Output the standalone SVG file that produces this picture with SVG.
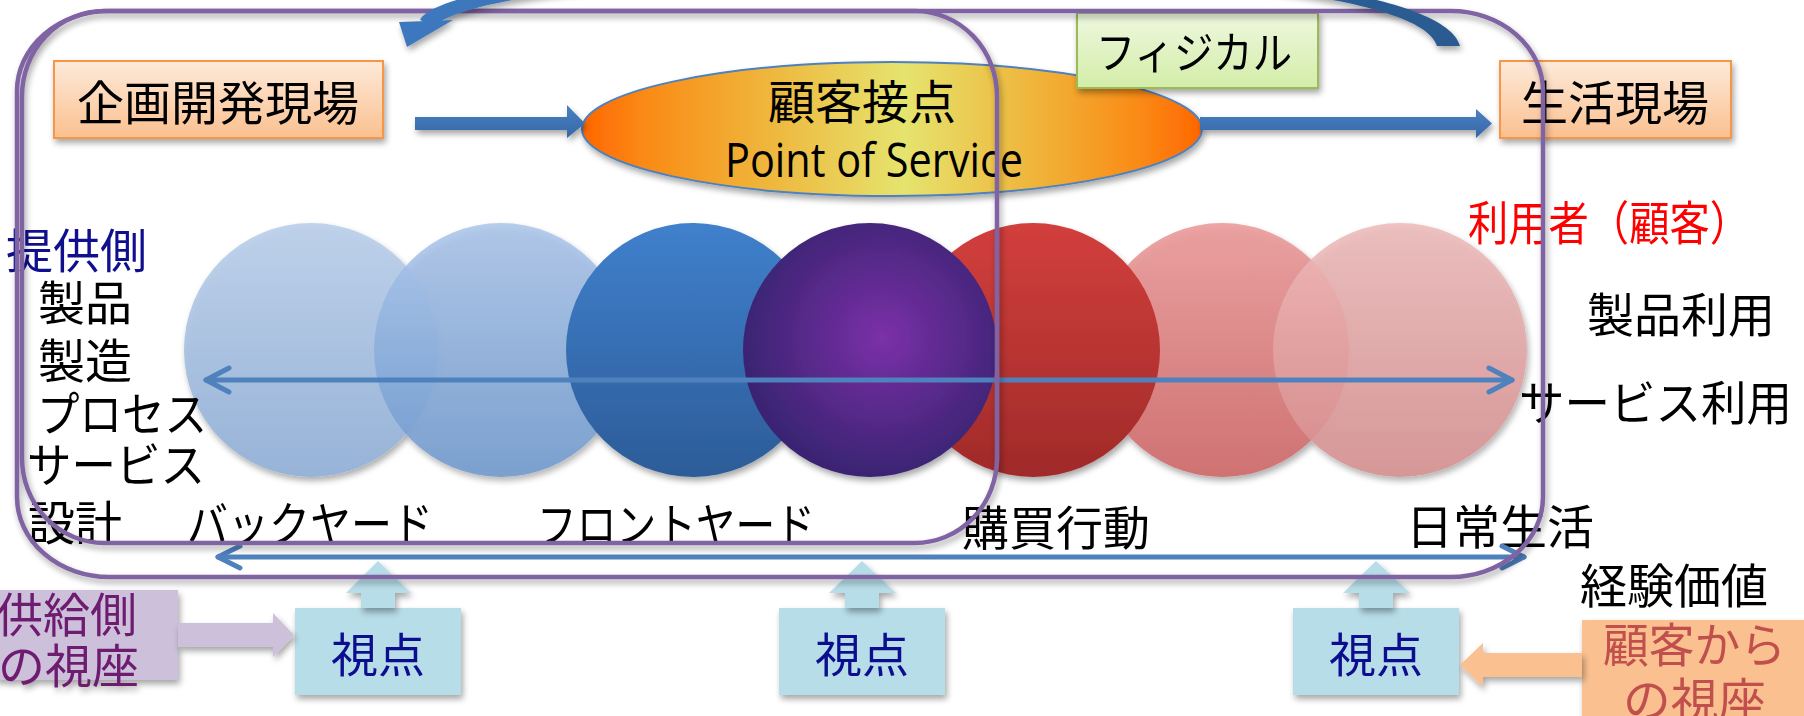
<svg xmlns="http://www.w3.org/2000/svg" width="1804" height="716" viewBox="0 0 1804 716">
<defs>
<style>
.t{font-family:'Noto Sans CJK JP','Noto Sans',sans-serif;font-size:47px;fill:#000;dominant-baseline:central}
.nv{fill:#10108F}
.pr{fill:none;stroke:#8064A2;stroke-width:4.5}
.dbl{fill:none;stroke:#4F81BD;stroke-width:5;stroke-linecap:round;stroke-linejoin:round}
</style>
<filter id="sh" x="-10%" y="-10%" width="130%" height="140%">
<feGaussianBlur in="SourceAlpha" stdDeviation="3"/>
<feOffset dx="2" dy="4" result="o"/>
<feComponentTransfer><feFuncA type="linear" slope="0.35"/></feComponentTransfer>
<feMerge><feMergeNode/><feMergeNode in="SourceGraphic"/></feMerge>
</filter>
<linearGradient id="gOr" x1="0" y1="0" x2="0" y2="1"><stop offset="0" stop-color="#FDEADA"/><stop offset="1" stop-color="#FBC08F"/></linearGradient>
<linearGradient id="gGr" x1="0" y1="0" x2="0" y2="1"><stop offset="0" stop-color="#EEF8DF"/><stop offset="1" stop-color="#D3EDA8"/></linearGradient>
<linearGradient id="gEl" x1="0" y1="0" x2="1" y2="0"><stop offset="0" stop-color="#FF6600"/><stop offset="0.1" stop-color="#FA8A15"/><stop offset="0.28" stop-color="#F0B238"/><stop offset="0.52" stop-color="#E5E46E"/><stop offset="0.74" stop-color="#F0B238"/><stop offset="0.9" stop-color="#FA8A15"/><stop offset="1" stop-color="#FF6600"/></linearGradient>
<linearGradient id="gArc" x1="0" y1="0" x2="1" y2="0"><stop offset="0" stop-color="#3D78BE"/><stop offset="1" stop-color="#2A5A90"/></linearGradient>
<linearGradient id="gBA" x1="0" y1="0" x2="0" y2="1"><stop offset="0" stop-color="#4A80C2"/><stop offset="1" stop-color="#3667A8"/></linearGradient>
<linearGradient id="c1" x1="0" y1="0" x2="0" y2="1"><stop offset="0" stop-color="#BCD0EB"/><stop offset="1" stop-color="#93B1D8"/></linearGradient>
<linearGradient id="c2" x1="0" y1="0" x2="0" y2="1"><stop offset="0" stop-color="#A8C3EA"/><stop offset="1" stop-color="#6A96CC"/></linearGradient>
<linearGradient id="c3" x1="0" y1="0" x2="0" y2="1"><stop offset="0" stop-color="#4080CC"/><stop offset="1" stop-color="#2C5C98"/></linearGradient>
<radialGradient id="c4" cx="0.55" cy="0.45" r="0.55"><stop offset="0" stop-color="#7B30A8"/><stop offset="1" stop-color="#3A2472"/></radialGradient>
<linearGradient id="c5" x1="0" y1="0" x2="0" y2="1"><stop offset="0" stop-color="#D23F3C"/><stop offset="1" stop-color="#A02A29"/></linearGradient>
<linearGradient id="c6" x1="0" y1="0" x2="0" y2="1"><stop offset="0" stop-color="#EC9C9C"/><stop offset="1" stop-color="#CF6A6A"/></linearGradient>
<linearGradient id="c7" x1="0" y1="0" x2="0" y2="1"><stop offset="0" stop-color="#EEBABA"/><stop offset="1" stop-color="#D68E8E"/></linearGradient>
</defs>
<rect width="1804" height="716" fill="#fff"/>

<g id="circles" filter="url(#sh)">
<circle id="c-1" cx="311" cy="350" r="127" fill="url(#c1)" opacity="0.92"/>
<circle id="c-2" cx="501" cy="350" r="127" fill="url(#c2)" opacity="0.82"/>
<circle id="c-3" cx="693" cy="350" r="127" fill="url(#c3)"/>
<circle id="c-6" cx="1222" cy="350" r="127" fill="url(#c6)" opacity="0.9"/>
<circle id="c-7" cx="1400" cy="350" r="127" fill="url(#c7)" opacity="0.85"/>
<circle id="c-5" cx="1033" cy="350" r="127" fill="url(#c5)"/>
<circle id="c-4" cx="870" cy="350" r="127" fill="url(#c4)"/>
</g>

<g id="kikaku" filter="url(#sh)">
<rect x="54" y="61" width="329" height="77" fill="url(#gOr)" stroke="#F79646" stroke-width="2"/>
<text class="t" x="218" y="99" text-anchor="middle">企画開発現場</text>
</g>
<g id="seikatsu" filter="url(#sh)">
<rect x="1500" y="61" width="231" height="77" fill="url(#gOr)" stroke="#F79646" stroke-width="2"/>
<text class="t" x="1615" y="99" text-anchor="middle">生活現場</text>
</g>
<g id="pos">
<ellipse cx="892" cy="129" rx="310" ry="67" fill="url(#gEl)" stroke="#4F81BD" stroke-width="2" filter="url(#sh)"/>
<text class="t" x="862" y="98" text-anchor="middle">顧客接点</text>
<text x="874" y="177" text-anchor="middle" font-family="'Open Sans',sans-serif" font-size="47" textLength="298" lengthAdjust="spacingAndGlyphs">Point of Service</text>
</g>
<g id="physical" filter="url(#sh)">
<rect x="1077" y="13" width="241" height="75" fill="url(#gGr)" stroke="#9BBB59" stroke-width="2"/>
<text class="t" x="1096" y="50" textLength="196" lengthAdjust="spacingAndGlyphs" style="font-size:44px">フィジカル</text>
</g>

<g id="labels-left">
<text class="t nv" x="6" y="247">提供側</text>
<text class="t" x="38" y="299">製品</text>
<text class="t" x="38" y="357">製造</text>
<text class="t" x="37" y="410" textLength="170" lengthAdjust="spacingAndGlyphs">プロセス</text>
<text class="t" x="27" y="461" textLength="178" lengthAdjust="spacingAndGlyphs">サービス</text>
<text class="t" x="28" y="519">設計</text>
</g>
<g id="labels-bottom">
<text class="t" x="187" y="520" textLength="246" lengthAdjust="spacingAndGlyphs">バックヤード</text>
<text class="t" x="537" y="521" textLength="278" lengthAdjust="spacingAndGlyphs">フロントヤード</text>
<text class="t" x="962" y="524">購買行動</text>
<text class="t" x="1406" y="523">日常生活</text>
</g>
<g id="labels-right">
<text class="t" x="1468" y="219" style="fill:#FF0000" textLength="282" lengthAdjust="spacingAndGlyphs">利用者（顧客）</text>
<text class="t" x="1587" y="311">製品利用</text>
<text class="t" x="1519" y="399" textLength="273" lengthAdjust="spacingAndGlyphs">サービス利用</text>
<text class="t" x="1580" y="582">経験価値</text>
</g>

<g id="supply-view" filter="url(#sh)">
<rect x="-5" y="590" width="183" height="90" fill="#CCC0DA"/>
<text class="t" x="-4" y="611" style="fill:#6E1A70">供給側</text>
<text class="t" x="-2" y="662" style="fill:#6E1A70" textLength="141" lengthAdjust="spacingAndGlyphs">の視座</text>
</g>
<g id="customer-view" filter="url(#sh)">
<rect x="1582" y="620" width="230" height="110" fill="#FAC090"/>
<text class="t" x="1603" y="641" style="fill:#C0504D" textLength="183" lengthAdjust="spacingAndGlyphs">顧客から</text>
<text class="t" x="1623" y="696" style="fill:#C0504D" textLength="143" lengthAdjust="spacingAndGlyphs">の視座</text>
</g>
<g id="view1" filter="url(#sh)">
<rect x="295" y="608" width="166" height="87" fill="#B7DDE8"/>
<text class="t nv" x="378" y="651" text-anchor="middle">視点</text>
</g>
<g id="view2" filter="url(#sh)">
<rect x="779" y="608" width="166" height="87" fill="#B7DDE8"/>
<text class="t nv" x="862" y="651" text-anchor="middle">視点</text>
</g>
<g id="view3" filter="url(#sh)">
<rect x="1293" y="608" width="166" height="87" fill="#B7DDE8"/>
<text class="t nv" x="1376" y="651" text-anchor="middle">視点</text>
</g>

<g id="connectors">
<polygon points="415,117 567,117 567,105 585,123.5 567,138 567,130 415,130" fill="url(#gBA)" filter="url(#sh)"/>
<polygon points="1200,117 1476,117 1476,109 1492,123.5 1476,138 1476,130 1200,130" fill="url(#gBA)" filter="url(#sh)"/>
<g filter="url(#sh)">
<polygon points="178,623 273,623 273,613 294,635 273,657 273,647 178,647" fill="#CCC0DA"/>
<polygon points="1582,653 1483,653 1483,643 1460,665 1483,687 1483,677 1582,677" fill="#FAC090"/>
<polygon points="361,608 361,593 346,593 378,561 411,593 395,593 395,608" fill="#B7DDE8"/>
<polygon points="845,608 845,593 829,593 862,561 896,593 879,593 879,608" fill="#B7DDE8"/>
<polygon points="1359,608 1359,593 1343,593 1376,561 1410,593 1393,593 1393,608" fill="#B7DDE8"/>
</g>
<g class="dbl">
<line x1="206" y1="380" x2="1512" y2="380"/>
<polyline points="229,368 206,380 229,392"/>
<polyline points="1489,368 1512,380 1489,392"/>
<line x1="218" y1="557" x2="1524" y2="557"/>
<polyline points="240,546 218,557 240,568"/>
<polyline points="1502,546 1524,557 1502,568"/>
</g>
</g>

<g id="regions" filter="url(#sh)">
<rect class="pr" x="17" y="11" width="1526" height="566" rx="92" ry="80"/>
<rect class="pr" x="22" y="11" width="975" height="532" rx="82" ry="85"/>
</g>

<g id="feedback-arc" filter="url(#sh)">
<path d="M1460,46 C1431,-66 472,-57 420,19.5 L432,28.5 C488,-43 1409,-54 1437,46 Z" fill="url(#gArc)"/>
<polygon points="399,22 453,20 407,47" fill="#3D78BE"/>
</g>
</svg>
